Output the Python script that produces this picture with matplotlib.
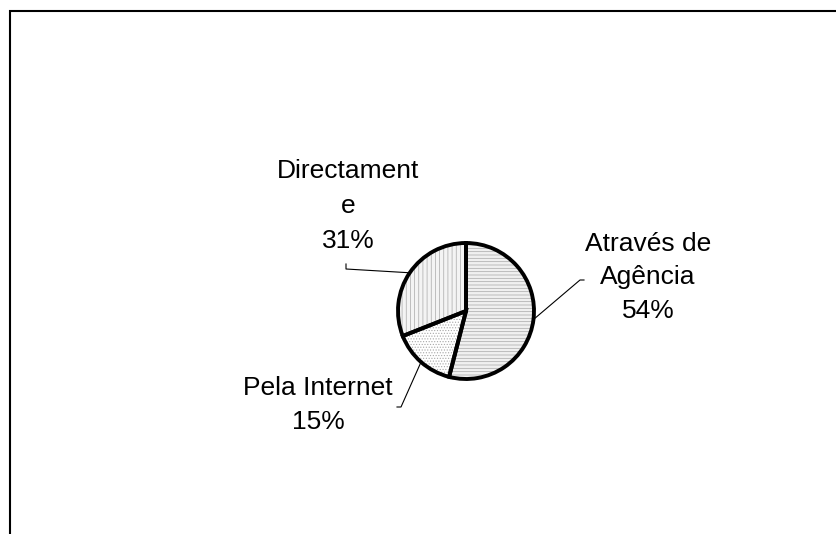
import numpy as np
import matplotlib
matplotlib.use("Agg")
import matplotlib.pyplot as plt
from matplotlib.patches import Rectangle

labels = ["Através de\nAgência", "Pela Internet", "Directament\ne"]
values = [54, 15, 31]
hatches = ["-----", "......", "||||"]
faces = ["#f0f0f0", "#ffffff", "#f4f4f4"]

plt.rcParams['font.family'] = ['Liberation Sans', 'DejaVu Sans']
plt.rcParams['hatch.linewidth'] = 0.5

W, H = 837, 534
fig = plt.figure(figsize=(W / 100, H / 100), dpi=100)
ax = fig.add_axes([0, 0, 1, 1])
ax.set_xlim(0, W)
ax.set_ylim(0, H)
ax.set_aspect('equal')
ax.axis('off')

center = (466, H - 311)
radius = 68

# frame (cropped chart-area border)
ax.add_patch(Rectangle((10, -20), W + 20, H - 10.5 + 20, fill=False,
                       edgecolor='black', linewidth=1.5, clip_on=False))

# hatched fills
wedges, _ = ax.pie(values, startangle=90, counterclock=False, center=center,
                   radius=radius, colors=faces,
                   wedgeprops=dict(edgecolor='#a8a8a8', linewidth=0))
for w, h in zip(wedges, hatches):
    w.set_hatch(h)
# outlines
ax.pie(values, startangle=90, counterclock=False, center=center,
       radius=radius, colors=['none'] * 3,
       wedgeprops=dict(edgecolor='black', linewidth=2.8, fill=False))
ax.set_xlim(0, W)
ax.set_ylim(0, H)

# labels with leader lines
pcts = [f"{v}%" for v in values]
text_pos = [(648, H - 277), (318, H - 405), (348, H - 206)]
elbows = [[(580, H - 280), (584, H - 280)],
          [(401, H - 407), (397, H - 407)],
          [(346, H - 269), (346, H - 264)]]
spacings = [1.5, 1.5, 1.6]
for w, lab, pct, tp, el, ls in zip(wedges, labels, pcts, text_pos, elbows, spacings):
    ang = np.deg2rad((w.theta1 + w.theta2) / 2)
    ex = center[0] + radius * np.cos(ang)
    ey = center[1] + radius * np.sin(ang)
    xs = [ex] + [p[0] for p in el]
    ys = [ey] + [p[1] for p in el]
    ax.plot(xs, ys, color='black', linewidth=0.8, zorder=1)
    ax.text(tp[0], tp[1], f"{lab}\n{pct}", ha='center', va='center',
            fontsize=19, linespacing=ls)

fig.savefig("out.png", dpi=100)
